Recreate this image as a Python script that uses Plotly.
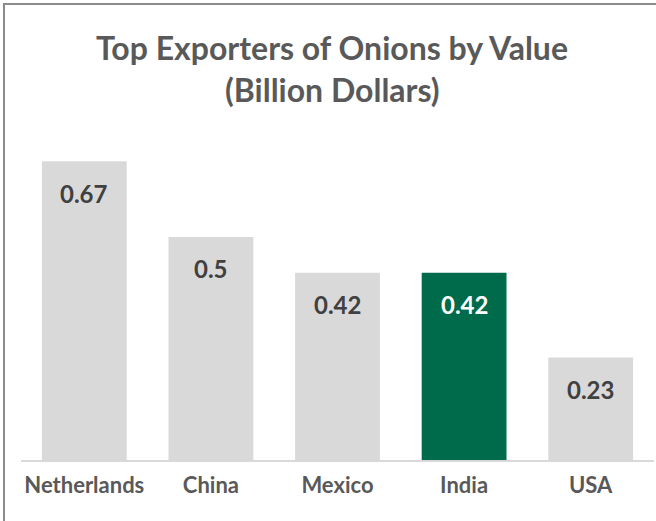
import plotly.graph_objects as go

countries = ["Netherlands", "China", "Mexico", "India", "USA"]
values = [0.67, 0.5, 0.42, 0.42, 0.23]
label_texts = ["0.67", "0.5", "0.42", "0.42", "0.23"]
highlight = "India"

GRAY = "#d9d9d9"
GREEN = "#006b4b"
FONT = "Lato"

colors = [GREEN if c == highlight else GRAY for c in countries]
text_colors = ["#ffffff" if c == highlight else "#404040" for c in countries]

W, H = 656, 521
L, R, T, B = 21, 2, 125, 61
pw, ph = W - L - R, H - T - B

fig = go.Figure(go.Bar(x=countries, y=values, marker_color=colors, marker_line_width=0,
                       hoverinfo="skip"))

for c, v, t, tc in zip(countries, values, label_texts, text_colors):
    fig.add_annotation(x=c, y=v, xref="x", yref="y", text=t, showarrow=False,
                       yanchor="middle", yshift=-32,
                       font=dict(family=FONT, size=24, color=tc, weight="bold"))

fig.add_annotation(x=(332 - L) / pw, y=(H - B - 47) / ph, xref="paper", yref="paper",
                   text="Top Exporters of Onions by Value", showarrow=False,
                   xanchor="center", yanchor="middle",
                   font=dict(family=FONT, size=32, color="#595959", weight="bold"))
fig.add_annotation(x=(332 - L) / pw, y=(H - B - 90) / ph, xref="paper", yref="paper",
                   text="(Billion Dollars)", showarrow=False,
                   xanchor="center", yanchor="middle",
                   font=dict(family=FONT, size=32, color="#595959", weight="bold"))

fig.add_shape(type="rect", xref="paper", yref="paper",
              x0=(4 - L) / pw, x1=(662 - L) / pw,
              y0=(H - B - 530) / ph, y1=(H - B - 4) / ph,
              line=dict(color="#8c8c8c", width=2), fillcolor="rgba(0,0,0,0)", layer="below")

fig.update_layout(
    width=W, height=H,
    margin=dict(l=L, r=R, t=T, b=B),
    paper_bgcolor="white", plot_bgcolor="white",
    bargap=0.33,
    showlegend=False,
    xaxis=dict(showline=True, linecolor=GRAY, linewidth=1.5, ticks="", showgrid=False,
               tickfont=dict(family=FONT, size=22, color="#595959", weight="bold"),
               ticklabelstandoff=5),
    yaxis=dict(range=[0, 0.751], visible=False, showgrid=False, zeroline=False),
)

fig.write_html("out.html", config={"displayModeBar": False},
               post_script="document.body.style.margin='0';document.body.style.overflow='hidden';")
